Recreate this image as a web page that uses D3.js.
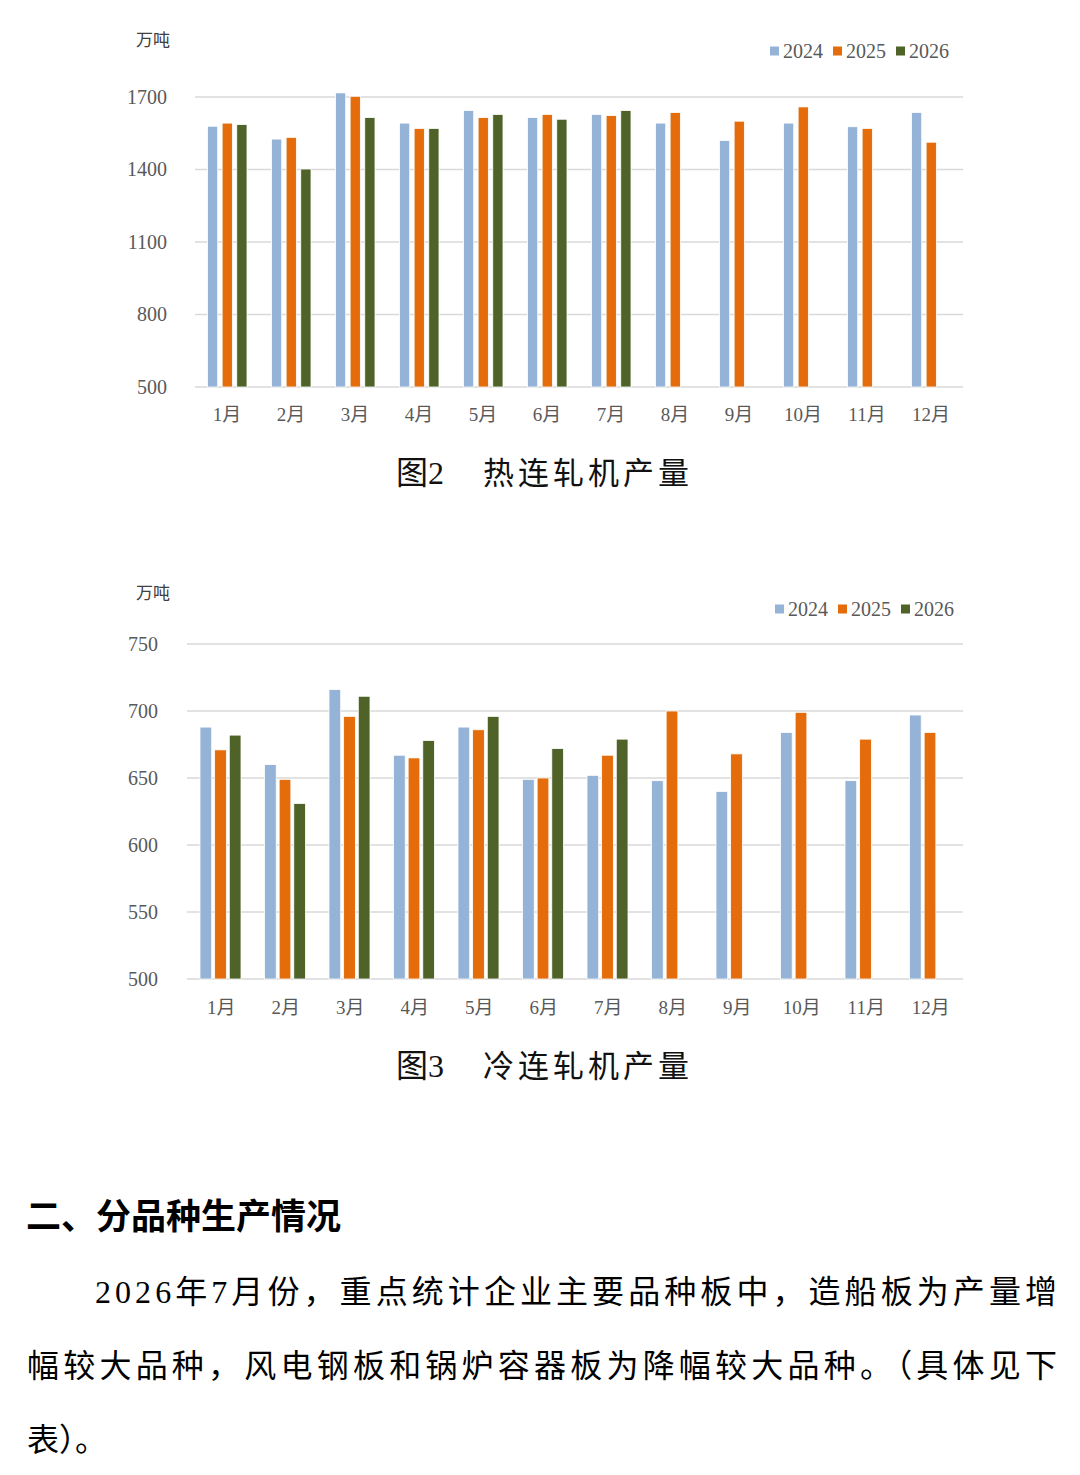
<!DOCTYPE html>
<html><head><meta charset="utf-8">
<script src="https://cdn.jsdelivr.net/npm/d3@7"></script>
<style>
html,body{margin:0;padding:0;background:#fff;}
svg{display:block;}
.sf{font-family:"Liberation Serif","Times New Roman","DejaVu Serif","Noto Sans CJK SC",serif;}
.hd{font-family:"Noto Sans CJK SC",sans-serif;}
</style></head>
<body>
<svg id="c" width="1080" height="1475"></svg>
<script>
const months = ["1月","2月","3月","4月","5月","6月","7月","8月","9月","10月","11月","12月"];
const series = ["2024","2025","2026"];
const colors = ["#95b3d7","#e46c0a","#4f6228"];

// 图2 热连轧机产量 (万吨)
const hot2024 = [1579,1526,1717,1592,1644,1615,1628,1592,1520,1592,1577,1636];
const hot2025 = [1592,1533,1703,1570,1615,1628,1623,1636,1600,1659,1570,1513];
const hot2026 = [1586,1402,1615,1570,1628,1608,1644,null,null,null,null,null];
const hotTicks = [500,800,1100,1400,1700];

// 图3 冷连轧机产量 (万吨)
const cold2024 = [688,660,716,667,688,649,652,648,640,684,648,697];
const cold2025 = [671,649,696,665,686,650,667,700,668,699,679,684];
const cold2026 = [682,631,711,678,696,672,679,null,null,null,null,null];
const coldTicks = [500,550,600,650,700,750];

const unitLabel = "万吨";
const titles = [["图2","热连轧机产量"],["图3","冷连轧机产量"]];
const heading = "二、分品种生产情况";
const paraLines = [
  "2026年7月份，重点统计企业主要品种板中，造船板为产量增",
  "幅较大品种，风电钢板和锅炉容器板为降幅较大品种。（具体见下",
  "表）。"
];

const svg = d3.select("#c");

function drawChart(cfg){
  const g = svg.append("g");
  const x0 = d3.scaleBand().domain(months).range([cfg.x0, cfg.x1]).paddingInner(0).paddingOuter(0);
  const x1 = d3.scaleBand().domain(series).range([cfg.gOff0, cfg.gOff1]).paddingInner(cfg.barPad);
  const y = d3.scaleLinear().domain(cfg.domain).range([cfg.yBase, cfg.yTop]);

  g.append("g").selectAll("line").data(cfg.ticks).join("line")
    .attr("x1", cfg.gridX0).attr("x2", cfg.x1)
    .attr("y1", d=>y(d)).attr("y2", d=>y(d))
    .attr("stroke", "#d9d9d9").attr("stroke-width", 1.3);

  const yAxis = d3.axisLeft(y).tickValues(cfg.ticks).tickSize(0).tickPadding(0).tickFormat(d3.format("d"));
  const ya = g.append("g").attr("transform", `translate(${cfg.yLabelX},0)`).call(yAxis);
  ya.select(".domain").remove();
  ya.attr("font-family", null).attr("font-size", null);
  ya.selectAll("text").attr("class","sf").style("font-size","20px").attr("fill", "#595959").attr("dy","0.32em");

  const xAxis = d3.axisBottom(x0).tickSize(0).tickPadding(0);
  const xa = g.append("g").attr("transform", `translate(0,${cfg.xLabelY})`).call(xAxis);
  xa.select(".domain").remove();
  xa.attr("font-family", null).attr("font-size", null);
  xa.selectAll("text").attr("class","sf").style("font-size","19px").attr("fill", "#595959").attr("dy", 0);

  const data = months.map((m,i)=>({m, vals: cfg.data.map((arr,k)=>({s:series[k], v:arr[i], c:colors[k]}))}));
  const groups = g.append("g").selectAll("g").data(data).join("g")
    .attr("transform", d=>`translate(${x0(d.m)},0)`);
  groups.selectAll("rect").data(d=>d.vals.filter(v=>v.v!=null)).join("rect")
    .attr("x", d=>x1(d.s)).attr("width", x1.bandwidth())
    .attr("y", d=>y(d.v)).attr("height", d=>cfg.yBase - y(d.v))
    .attr("fill", d=>d.c).attr("stroke", "#fff").attr("stroke-width", 0.8);

  g.append("text").attr("class","sf").attr("x", cfg.unitX).attr("y", cfg.unitY).text(unitLabel)
    .style("font-size","17px").attr("fill", "#404040");

  const lg = g.append("g").selectAll("g").data(series).join("g")
    .attr("transform", (d,i)=>`translate(${cfg.legX + i*63},${cfg.legY})`);
  lg.append("rect").attr("x",0).attr("y",-4.5).attr("width",9).attr("height",9).attr("fill",(d,i)=>colors[i]);
  lg.append("text").attr("class","sf").attr("x",13).attr("y",0).attr("dy","0.35em").text(d=>d)
    .style("font-size","20px").attr("fill", "#595959");

  g.append("text").attr("class","sf").attr("x", cfg.titleX).attr("y", cfg.titleY).text(cfg.title[0])
    .style("font-size","32px").attr("fill", "#111");
  g.append("text").attr("class","sf").attr("x", cfg.titleX + 87).attr("y", cfg.titleY).text(cfg.title[1])
    .style("font-size","31px").attr("fill", "#111")
    .attr("textLength", 206).attr("lengthAdjust", "spacing");
}

drawChart({
  x0:195, x1:963, gridX0:195, gOff0:12.5, gOff1:52, barPad:0.3,
  domain:[500,1700], yBase:387, yTop:97, ticks:hotTicks,
  yLabelX:167, xLabelY:421, data:[hot2024,hot2025,hot2026],
  unitX:136, unitY:46, legX:770, legY:51,
  title:titles[0], titleX:396, titleY:484
});

drawChart({
  x0:189, x1:963, gridX0:187, gOff0:11, gOff1:52, barPad:0.2,
  domain:[500,750], yBase:979, yTop:644, ticks:coldTicks,
  yLabelX:158, xLabelY:1014, data:[cold2024,cold2025,cold2026],
  unitX:136, unitY:599, legX:775, legY:609,
  title:titles[1], titleX:396, titleY:1077
});

svg.append("text").attr("class","hd").attr("x", 26).attr("y", 1229).text(heading)
  .style("font-weight","bold").style("font-size","35px").attr("fill", "#000");

const lineSpec = [{x:95, y:1303, w:962}, {x:27, y:1377, w:1030}, {x:27, y:1451, w:null}];
paraLines.forEach((t,i)=>{
  const s = lineSpec[i];
  const el = svg.append("text").attr("class","sf").attr("x", s.x).attr("y", s.y).text(t)
    .style("font-size","32px").attr("fill", "#000");
  if (s.w) el.attr("textLength", s.w).attr("lengthAdjust", "spacing");
});
</script>
</body></html>
